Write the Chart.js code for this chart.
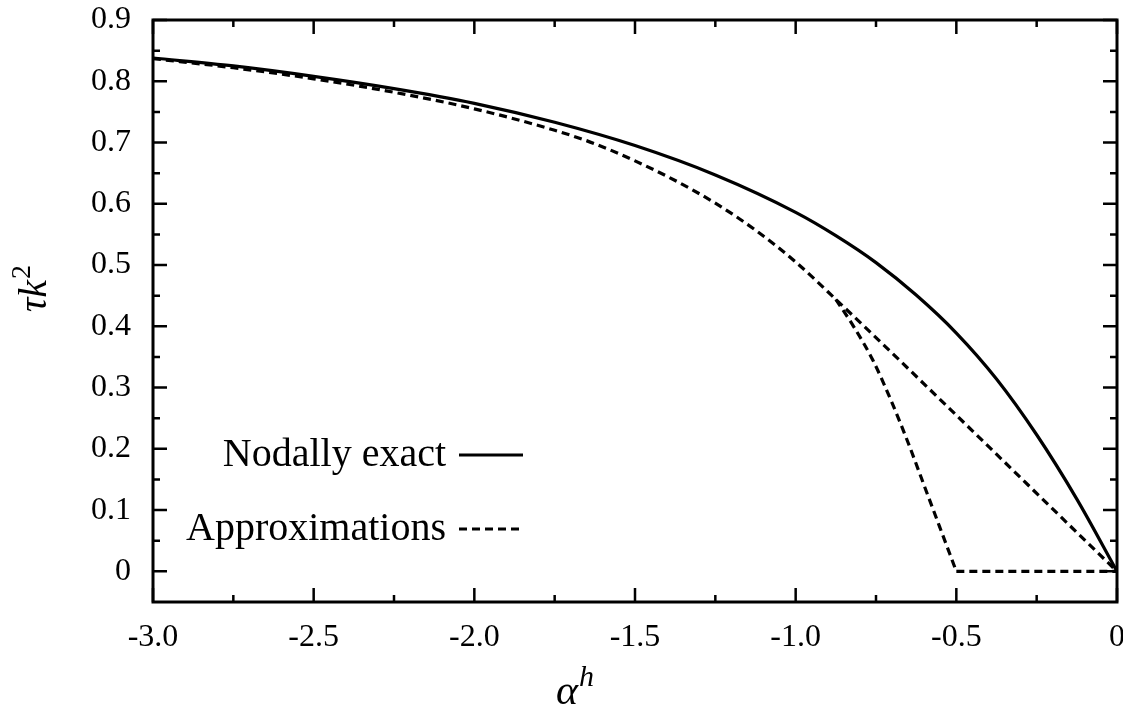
<!DOCTYPE html>
<html>
<head>
<meta charset="utf-8">
<script src="https://cdn.jsdelivr.net/npm/chart.js@4/dist/chart.umd.min.js"></script>
<style>
  body { margin: 0; background: #fff; }
</style>
</head>
<body>
<canvas id="dispChart" width="1123" height="722"></canvas>
<script>
// tick positions and their printed labels
const xTicks = [-3.0, -2.5, -2.0, -1.5, -1.0, -0.5, 0];
const xLabels = ['-3.0', '-2.5', '-2.0', '-1.5', '-1.0', '-0.5', '0'];
const yTicks = [0, 0.1, 0.2, 0.3, 0.4, 0.5, 0.6, 0.7, 0.8, 0.9];
const yLabels = ['0', '0.1', '0.2', '0.3', '0.4', '0.5', '0.6', '0.7', '0.8', '0.9'];

// nodally exact curve
const exactX = [-3.0, -2.75, -2.5, -2.25, -2.0, -1.75, -1.5, -1.25, -1.0, -0.875, -0.75, -0.625, -0.5, -0.375, -0.25, -0.125, 0];
const exactY = [0.838, 0.825, 0.808, 0.788, 0.764, 0.733, 0.695, 0.647, 0.586, 0.548, 0.504, 0.451, 0.389, 0.314, 0.223, 0.118, 0];

// approximation: shared upper part, then straight to the origin
const approxX = [-3.0, -2.75, -2.5, -2.25, -2.0, -1.75, -1.625, -1.5, -1.375, -1.25, -1.125, -1.0, -0.875, 0];
const approxY = [0.837, 0.822, 0.804, 0.782, 0.755, 0.720, 0.698, 0.670, 0.638, 0.601, 0.557, 0.505, 0.444, 0];

// approximation: steep branch down to -0.5, then flat
const branchX = [-0.875, -0.82, -0.76, -0.7, -0.65, -0.6, -0.55, -0.5];
const branchY = [0.444, 0.40, 0.345, 0.275, 0.21, 0.14, 0.07, 0];
const floorX = [-0.5, 0];
const floorY = [0, 0];

const pts = (xs, ys) => xs.map((x, i) => ({ x: x, y: ys[i] }));

const serif = '"Liberation Serif", "DejaVu Serif", serif';
const dash = [8, 5];

function lineSet(label, xs, ys, dashed) {
  return {
    label: label,
    data: pts(xs, ys),
    borderColor: '#000',
    borderWidth: 3.2,
    borderDash: dashed ? dash : [],
    pointRadius: 0,
    fill: false,
    cubicInterpolationMode: 'monotone',
  };
}

// text with a raised superscript right after it
function withSup(ctx, base, sup, x, y, baseFont, supFont, rise) {
  ctx.font = baseFont;
  ctx.fillText(base, x, y);
  const w = ctx.measureText(base).width;
  ctx.font = supFont;
  ctx.fillText(sup, x + w + 1, y - rise);
}

// frame, inward ticks on all sides, in-plot key and axis titles
const decorations = {
  id: 'decorations',
  afterDraw(chart) {
    const ctx = chart.ctx;
    const a = chart.chartArea;
    const xs = chart.scales.x;
    const ys = chart.scales.y;
    ctx.save();
    ctx.strokeStyle = '#000';
    ctx.lineWidth = 3;
    ctx.strokeRect(a.left, a.top, a.right - a.left, a.bottom - a.top);

    ctx.lineWidth = 2.5;
    ctx.beginPath();
    for (let i = 0; i <= 12; i++) {
      const v = -3 + i * 0.25;
      const len = i % 2 === 0 ? 14 : 7;
      const px = xs.getPixelForValue(v);
      ctx.moveTo(px, a.bottom); ctx.lineTo(px, a.bottom - len);
      ctx.moveTo(px, a.top); ctx.lineTo(px, a.top + len);
    }
    for (let i = 0; i <= 18; i++) {
      const v = i * 0.05;
      const len = i % 2 === 0 ? 14 : 7;
      const py = ys.getPixelForValue(v);
      ctx.moveTo(a.left, py); ctx.lineTo(a.left + len, py);
      ctx.moveTo(a.right, py); ctx.lineTo(a.right - len, py);
    }
    ctx.stroke();

    // key
    ctx.fillStyle = '#000';
    ctx.font = '40px ' + serif;
    ctx.textAlign = 'right';
    ctx.textBaseline = 'alphabetic';
    ctx.fillText('Nodally exact', 446, 466);
    ctx.fillText('Approximations', 446, 540);
    ctx.lineWidth = 3.2;
    ctx.beginPath();
    ctx.moveTo(459, 455); ctx.lineTo(523, 455);
    ctx.stroke();
    ctx.setLineDash(dash);
    ctx.beginPath();
    ctx.moveTo(459, 529); ctx.lineTo(523, 529);
    ctx.stroke();
    ctx.setLineDash([]);

    // x axis title: alpha^h
    ctx.textAlign = 'left';
    withSup(ctx, 'α', 'h', 556, 704, 'italic 42px ' + serif, 'italic 30px ' + serif, 18);

    // y axis title: tau k^2, rotated
    ctx.translate(46, 282);
    ctx.rotate(-Math.PI / 2);
    withSup(ctx, 'τk', '2', -30, 0, 'italic 40px ' + serif, '28px ' + serif, 16);
    ctx.restore();
  }
};

new Chart(document.getElementById('dispChart').getContext('2d'), {
  type: 'line',
  data: {
    datasets: [
      lineSet('Nodally exact', exactX, exactY, false),
      lineSet('Approximations', approxX, approxY, true),
      lineSet('Approximations (branch)', branchX, branchY, true),
      lineSet('Approximations (floor)', floorX, floorY, true),
    ],
  },
  options: {
    responsive: false,
    animation: false,
    layout: { padding: { top: 20, right: 6, left: 0, bottom: 0 } },
    plugins: {
      legend: { display: false },
      tooltip: { enabled: false },
    },
    scales: {
      x: {
        type: 'linear',
        min: -3,
        max: 0,
        afterBuildTicks: (scale) => { scale.ticks = xTicks.map(v => ({ value: v })); },
        afterFit: (scale) => {
          scale.height = 120;
          scale.paddingLeft = 0;
          scale.paddingRight = 0;
        },
        grid: { display: false },
        border: { display: false },
        ticks: {
          color: '#000',
          font: { family: serif, size: 32 },
          padding: 8,
          maxRotation: 0,
          callback: (v) => xLabels[xTicks.indexOf(v)],
        },
      },
      y: {
        type: 'linear',
        min: -0.05,
        max: 0.9,
        afterBuildTicks: (scale) => { scale.ticks = yTicks.map(v => ({ value: v })); },
        afterFit: (scale) => {
          scale.width = 153;
          scale.paddingTop = 0;
          scale.paddingBottom = 0;
        },
        grid: { display: false },
        border: { display: false },
        ticks: {
          color: '#000',
          font: { family: serif, size: 32 },
          padding: 14,
          callback: (v) => {
            const i = yTicks.findIndex(t => Math.abs(t - v) < 1e-9);
            return i >= 0 ? yLabels[i] : '';
          },
        },
      },
    },
  },
  plugins: [decorations],
});
</script>
</body>
</html>
